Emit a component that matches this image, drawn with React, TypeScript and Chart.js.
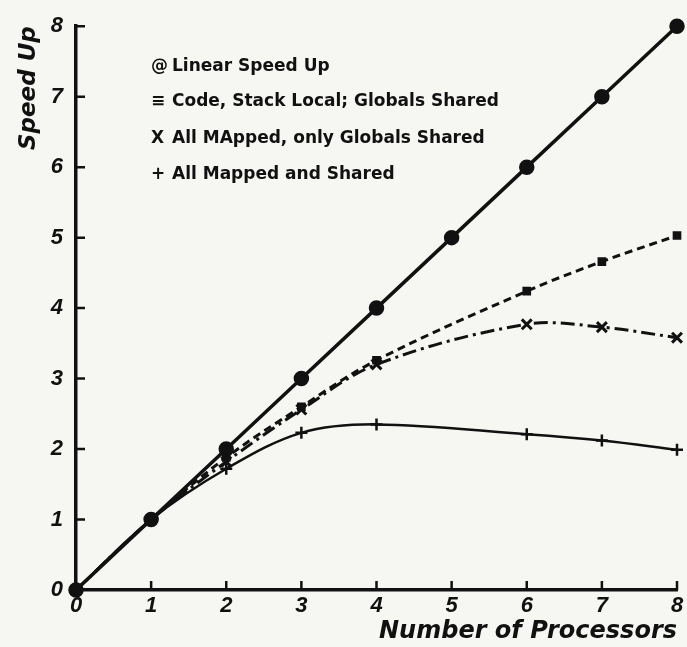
import React, { useEffect, useRef } from "react";
import { Chart, registerables } from "chart.js";

Chart.register(...registerables);

// ---- data ----
const xTickValues = [0, 1, 2, 3, 4, 5, 6, 7, 8];
const yTickValues = [0, 1, 2, 3, 4, 5, 6, 7, 8];

const linearX = [0, 1, 2, 3, 4, 5, 6, 7, 8];
const linearY = [0, 1, 2, 3, 4, 5, 6, 7, 8];

const codeLocalX = [0, 1, 2, 3, 4, 6, 7, 8];
const codeLocalY = [0, 1, 1.88, 2.6, 3.26, 4.24, 4.66, 5.03];

const globalsSharedX = [0, 1, 2, 3, 4, 6, 7, 8];
const globalsSharedY = [0, 1, 1.82, 2.56, 3.2, 3.77, 3.73, 3.58];

const allSharedX = [0, 1, 2, 3, 4, 6, 7, 8];
const allSharedY = [0, 1, 1.72, 2.23, 2.35, 2.21, 2.12, 1.99];

const legendSymbols = ["@", "\u2261", "X", "+"];
const legendLabels = [
  "Linear Speed Up",
  "Code, Stack Local; Globals Shared",
  "All MApped, only Globals Shared",
  "All Mapped and Shared",
];

const xTitle = "Number of Processors";
const yTitle = "Speed Up";

const INK = "#111111";
const BG = "#f6f6f3";
const FONT = "'Liberation Sans', Arial, sans-serif";
const WIDE = "'DejaVu Sans', sans-serif";

const pts = (xs: number[], ys: number[]) => xs.map((x, i) => ({ x, y: ys[i] }));

const innerTicks = {
  id: "innerTicks",
  afterDatasetsDraw(chart: any) {
    const { ctx, scales, chartArea } = chart;
    ctx.save();
    ctx.strokeStyle = INK;
    ctx.lineWidth = 2.5;
    ctx.beginPath();
    xTickValues.forEach((v) => {
      if (v === 0) return;
      const px = scales.x.getPixelForValue(v);
      ctx.moveTo(px, chartArea.bottom);
      ctx.lineTo(px, chartArea.bottom - 9);
    });
    yTickValues.forEach((v) => {
      if (v === 0) return;
      const py = scales.y.getPixelForValue(v);
      ctx.moveTo(chartArea.left, py);
      ctx.lineTo(chartArea.left + 9, py);
    });
    ctx.stroke();
    ctx.restore();
  },
};

const textLegend = {
  id: "textLegend",
  afterDraw(chart: any) {
    const { ctx } = chart;
    ctx.save();
    ctx.fillStyle = INK;
    ctx.font = `bold 17px ${WIDE}`;
    ctx.textBaseline = "middle";
    ctx.textAlign = "left";
    const ys = [67, 102, 139, 175];
    legendLabels.forEach((t, i) => {
      ctx.fillText(legendSymbols[i], 151, ys[i]);
      ctx.fillText(t, 172, ys[i]);
    });
    ctx.restore();
  },
};

const bgPlugin = {
  id: "bgFill",
  beforeDraw(chart: any) {
    const { ctx, width, height } = chart;
    ctx.save();
    ctx.fillStyle = BG;
    ctx.fillRect(0, 0, width, height);
    ctx.restore();
  },
};

export default function App() {
  const ref = useRef<HTMLCanvasElement>(null);
  useEffect(() => {
    if (!ref.current) return;
    const chart = new Chart(ref.current, {
      type: "line",
      data: {
        datasets: [
          {
            label: "Linear Speed Up",
            data: pts(linearX, linearY),
            borderColor: INK,
            backgroundColor: INK,
            borderWidth: 3.5,
            pointStyle: "circle",
            pointRadius: 6,
            tension: 0,
            clip: false,
          },
          {
            label: "Code, Stack Local; Globals Shared",
            data: pts(codeLocalX, codeLocalY),
            borderColor: INK,
            backgroundColor: INK,
            borderWidth: 3,
            borderDash: [8, 5],
            pointStyle: "rect",
            pointRadius: 4,
            tension: 0.35,
            clip: false,
          },
          {
            label: "All MApped, only Globals Shared",
            data: pts(globalsSharedX, globalsSharedY),
            borderColor: INK,
            backgroundColor: INK,
            borderWidth: 3,
            borderDash: [14, 5, 3, 5],
            pointStyle: "crossRot",
            pointRadius: 7,
            pointBorderWidth: 3,
            tension: 0.35,
            clip: false,
          },
          {
            label: "All Mapped and Shared",
            data: pts(allSharedX, allSharedY),
            borderColor: INK,
            backgroundColor: INK,
            borderWidth: 2.5,
            pointStyle: "cross",
            pointRadius: 6,
            pointBorderWidth: 2.5,
            tension: 0.35,
            clip: false,
          },
        ],
      },
      options: {
        animation: false,
        responsive: false,
        maintainAspectRatio: false,
        layout: { padding: { top: 20, right: 5, bottom: 0, left: 0 } },
        plugins: { legend: { display: false }, tooltip: { enabled: false } },
        scales: {
          x: {
            type: "linear",
            min: 0,
            max: 8,
            afterFit: (s: any) => {
              s.height = 57;
            },
            afterBuildTicks: (s: any) => {
              s.ticks = xTickValues.map((v) => ({ value: v }));
            },
            grid: { display: false, drawTicks: false },
            border: { display: true, color: INK, width: 3.5 },
            ticks: {
              color: INK,
              padding: 3,
              font: { family: FONT, size: 22, weight: "bold", style: "italic" },
            },
            title: {
              display: true,
              text: xTitle,
              align: "end",
              color: INK,
              padding: { top: 0, bottom: 1 },
              font: { family: WIDE, size: 24, weight: "bold", style: "italic" },
            },
          },
          y: {
            type: "linear",
            min: 0,
            max: 8,
            afterFit: (s: any) => {
              s.width = 76;
            },
            afterBuildTicks: (s: any) => {
              s.ticks = yTickValues.map((v) => ({ value: v }));
            },
            grid: { display: false, drawTicks: false },
            border: { display: true, color: INK, width: 3.5 },
            ticks: {
              color: INK,
              padding: 13,
              font: { family: FONT, size: 22, weight: "bold", style: "italic" },
            },
            title: {
              display: true,
              text: yTitle,
              align: "end",
              color: INK,
              padding: { top: 15, bottom: 0 },
              font: { family: WIDE, size: 23, weight: "bold", style: "italic" },
            },
          },
        },
      },
      plugins: [bgPlugin, innerTicks, textLegend],
    } as any);
    return () => chart.destroy();
  }, []);
  return (
    <div style={{ position: "absolute", left: 0, top: 0, width: 687, height: 647, background: BG }}>
      <canvas ref={ref} width={687} height={647} style={{ display: "block", width: 687, height: 647 }} />
    </div>
  );
}
